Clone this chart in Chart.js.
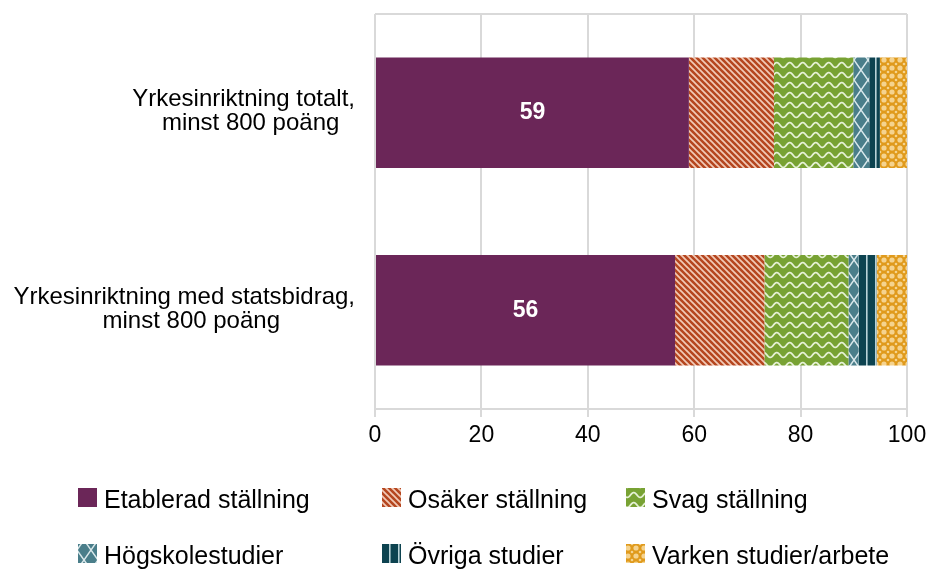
<!DOCTYPE html>
<html>
<head>
<meta charset="utf-8">
<script src="https://cdn.jsdelivr.net/npm/chart.js@4"></script>
<style>
  html, body { margin: 0; padding: 0; background: #fff; }
  #wrap { width: 929px; height: 571px; position: relative; }
</style>
</head>
<body>
<div id="wrap"><canvas id="chart" width="929" height="571"></canvas></div>
<script>
// data (percent)
const categories = [
    ["Yrkesinriktning totalt,", "minst 800 poäng"],
    ["Yrkesinriktning med statsbidrag,", "minst 800 poäng"]
];
const seriesNames = ["Etablerad ställning", "Osäker ställning", "Svag ställning",
                     "Högskolestudier", "Övriga studier", "Varken studier/arbete"];
const etablerad = [59, 56.4];
const osaker = [16, 16.8];
const svag = [14.9, 15.8];
const hogskola = [3.0, 1.9];
const ovriga = [2.0, 3.4];
const varken = [5.1, 5.7];
const xTicks = [0, 20, 40, 60, 80, 100];

const FONT = "Liberation Sans, Arial, sans-serif";
const GRID = "#D9D9D9";

function tile(w, h, draw) {
    const c = document.createElement("canvas");
    c.width = w; c.height = h;
    const ctx = c.getContext("2d");
    draw(ctx, w, h);
    return document.createElement("canvas").getContext("2d").createPattern(c, "repeat");
}

const patterns = {
    etablerad: "#6B2658",
    osaker: tile(6, 6, (ctx, w, h) => {
        ctx.fillStyle = "#B5461F";
        ctx.fillRect(0, 0, w, h);
        ctx.strokeStyle = "rgba(244,210,192,0.95)";
        ctx.lineWidth = 1.7;
        [-6, 0, 6].forEach(k => {
            ctx.beginPath();
            ctx.moveTo(-1, -1 + k);
            ctx.lineTo(w + 1, w + 1 + k);
            ctx.stroke();
        });
    }),
    svag: tile(13, 10, (ctx, w, h) => {
        ctx.fillStyle = "#78A233";
        ctx.fillRect(0, 0, w, h);
        ctx.strokeStyle = "rgba(236,245,222,0.95)";
        ctx.lineWidth = 1.8;
        ctx.beginPath();
        for (let x = -1; x <= w + 1; x += 0.5) {
            const y = 5 + 2.4 * Math.sin(2 * Math.PI * x / w);
            if (x === -1) ctx.moveTo(x, y); else ctx.lineTo(x, y);
        }
        ctx.stroke();
    }),
    hogskola: tile(14, 20, (ctx, w, h) => {
        ctx.fillStyle = "#4A7E8A";
        ctx.fillRect(0, 0, w, h);
        ctx.strokeStyle = "rgba(225,238,240,0.95)";
        ctx.lineWidth = 1.5;
        ctx.beginPath();
        ctx.moveTo(0, 0); ctx.lineTo(w, h);
        ctx.moveTo(w, 0); ctx.lineTo(0, h);
        ctx.stroke();
    }),
    ovriga: tile(9, 4, (ctx, w, h) => {
        ctx.fillStyle = "#0D4350";
        ctx.fillRect(0, 0, w, h);
        ctx.fillStyle = "#B9D3D8";
        ctx.fillRect(2, 0, 1.6, h);
    }),
    varken: tile(8, 8, (ctx, w, h) => {
        ctx.fillStyle = "#E09A1C";
        ctx.fillRect(0, 0, w, h);
        ctx.fillStyle = "rgba(246,214,150,0.95)";
        ctx.beginPath();
        ctx.arc(4, 4, 2.6, 0, Math.PI * 2);
        ctx.fill();
        [[0, 0], [8, 0], [0, 8], [8, 8]].forEach(p => {
            ctx.beginPath();
            ctx.arc(p[0], p[1], 1.3, 0, Math.PI * 2);
            ctx.fill();
        });
    })
};

const seriesData = [etablerad, osaker, svag, hogskola, ovriga, varken];
const seriesFill = [patterns.etablerad, patterns.osaker, patterns.svag,
                    patterns.hogskola, patterns.ovriga, patterns.varken];

// top edge of the plot frame
const frameTop = {
    id: "frameTop",
    beforeDatasetsDraw(chart) {
        const { ctx, chartArea } = chart;
        ctx.save();
        ctx.strokeStyle = GRID;
        ctx.lineWidth = 2;
        ctx.beginPath();
        ctx.moveTo(chartArea.left, chartArea.top);
        ctx.lineTo(chartArea.right, chartArea.top);
        ctx.stroke();
        ctx.restore();
    }
};

// category labels: block right aligned, lines centred inside the block
const categoryLabels = {
    id: "categoryLabels",
    afterDraw(chart) {
        const { ctx } = chart;
        const yScale = chart.scales.y;
        const rightEdge = 355;
        ctx.save();
        ctx.font = "24px " + FONT;
        ctx.fillStyle = "#000";
        ctx.textAlign = "center";
        ctx.textBaseline = "middle";
        categories.forEach((lines, i) => {
            const y = yScale.getPixelForValue(i) - 1;
            const w = ctx.measureText(lines[0]).width;
            const cx = rightEdge - w / 2;
            const lh = 24;
            lines.forEach((line, j) => {
                const off = j === 0 ? 0 : 7;
                ctx.fillText(line, cx + off, y + (j - (lines.length - 1) / 2) * lh);
            });
        });
        ctx.restore();
    }
};

// value in the first segment
const valueLabels = {
    id: "valueLabels",
    afterDatasetsDraw(chart) {
        const { ctx } = chart;
        const meta = chart.getDatasetMeta(0);
        ctx.save();
        ctx.font = "bold 23px " + FONT;
        ctx.fillStyle = "#fff";
        ctx.textAlign = "center";
        ctx.textBaseline = "middle";
        meta.data.forEach((bar, i) => {
            const p = bar.getCenterPoint();
            ctx.fillText(Math.round(etablerad[i]), p.x, p.y);
        });
        ctx.restore();
    }
};

// legend in 3 fixed columns, 2 rows
const gridLegend = {
    id: "gridLegend",
    afterDraw(chart) {
        const { ctx } = chart;
        const cols = [78, 382, 626];
        const rows = [498, 554];
        ctx.save();
        ctx.font = "25px " + FONT;
        ctx.textBaseline = "middle";
        ctx.textAlign = "left";
        seriesNames.forEach((name, i) => {
            const x = cols[i % 3];
            const y = rows[Math.floor(i / 3)];
            ctx.fillStyle = seriesFill[i];
            ctx.fillRect(x, y - 10, 19, 19);
            ctx.fillStyle = "#000";
            ctx.fillText(name, x + 26, y + 3);
        });
        ctx.restore();
    }
};

new Chart(document.getElementById("chart"), {
    type: "bar",
    data: {
        labels: categories,
        datasets: seriesNames.map((name, i) => ({
            label: name,
            data: seriesData[i],
            backgroundColor: seriesFill[i],
            borderWidth: 0,
            barPercentage: 0.56,
            categoryPercentage: 1
        }))
    },
    options: {
        indexAxis: "y",
        responsive: false,
        animation: false,
        layout: { padding: { top: 14, right: 22, bottom: 101, left: 0 } },
        scales: {
            x: {
                stacked: true,
                min: 0,
                max: 100,
                afterBuildTicks: scale => { scale.ticks = xTicks.map(v => ({ value: v })); },
                afterFit: scale => {
                    scale.height = 61;
                    scale.paddingLeft = 0;
                    scale.paddingRight = 0;
                },
                grid: { color: GRID, lineWidth: 2, tickLength: 8, drawTicks: true },
                border: { color: GRID, width: 2 },
                ticks: { font: { family: FONT, size: 23 }, color: "#000", padding: 5 }
            },
            y: {
                stacked: true,
                afterFit: scale => { scale.width = 375; },
                grid: { display: false },
                border: { display: false },
                ticks: { display: false }
            }
        },
        plugins: {
            legend: { display: false },
            tooltip: { enabled: false }
        }
    },
    plugins: [frameTop, categoryLabels, valueLabels, gridLegend]
});
</script>
</body>
</html>
